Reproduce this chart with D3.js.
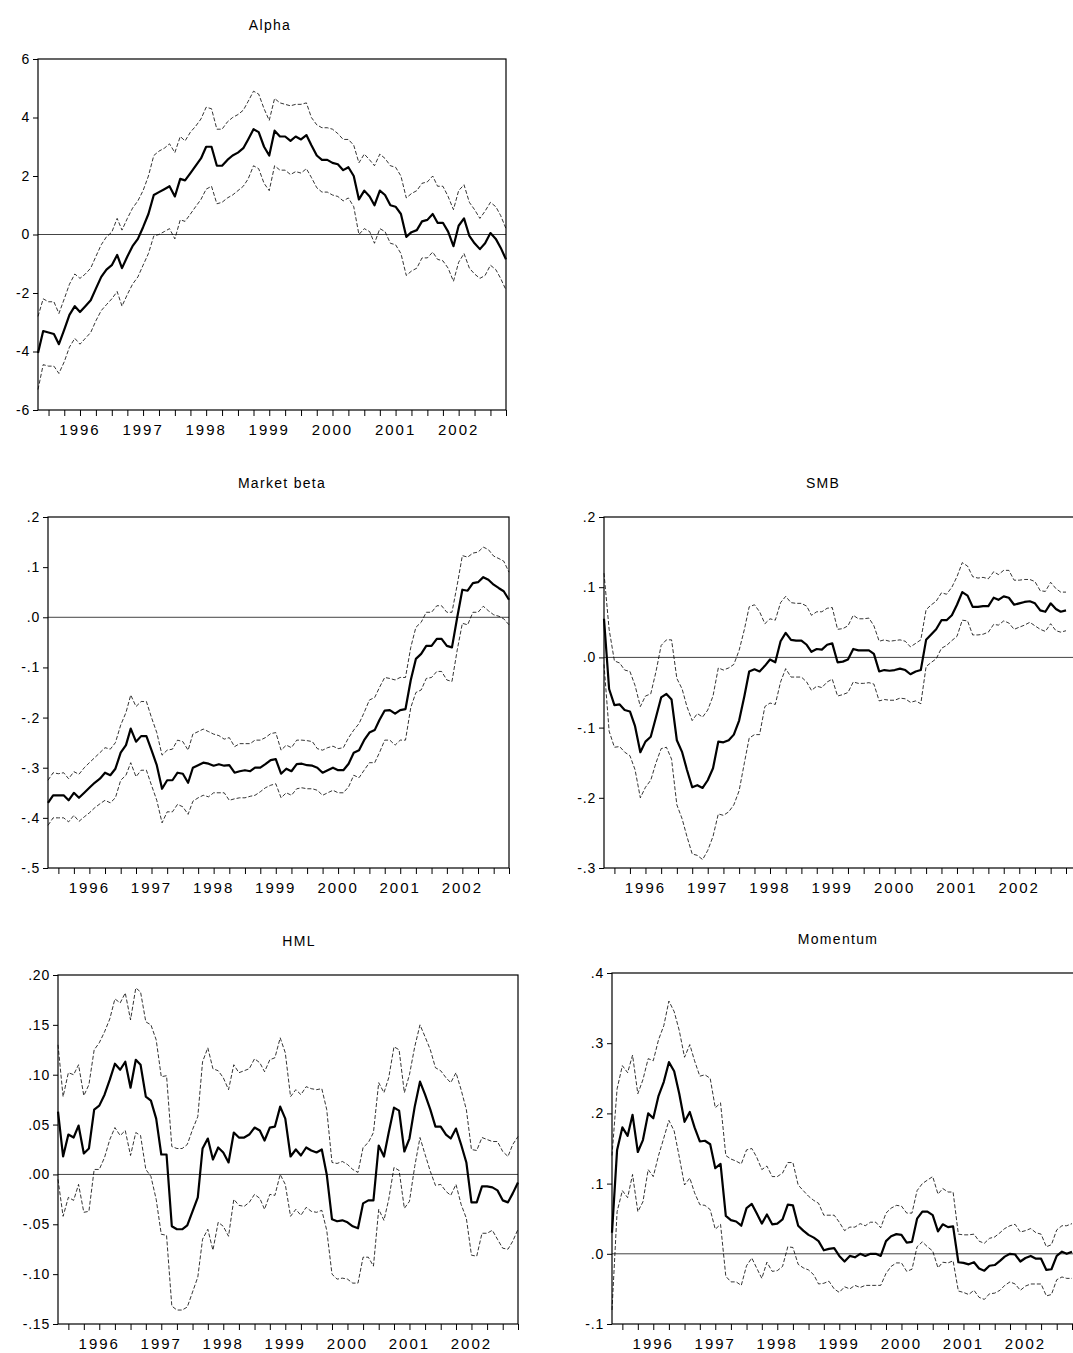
<!DOCTYPE html>
<html><head><meta charset="utf-8">
<script src="https://cdn.jsdelivr.net/npm/d3@7"></script>
<style>body{margin:0;background:#fff}svg{font-family:"Liberation Sans",Arial,sans-serif}</style>
</head><body>
<svg id="chart" width="1073" height="1353"></svg>
<script>
// monthly observations, Nov 1995 .. Apr 2003
const startDate = new Date(1995, 10, 1);
const yearLabels = [1996, 1997, 1998, 1999, 2000, 2001, 2002];

const alphaMid = [-4.05,-3.3,-3.35,-3.4,-3.75,-3.25,-2.75,-2.45,-2.65,-2.45,-2.25,-1.85,-1.45,-1.2,-1.05,-0.7,-1.15,-0.75,-0.4,-0.15,0.25,0.7,1.35,1.45,1.55,1.65,1.3,1.9,1.85,2.1,2.35,2.6,3.0,3.0,2.35,2.35,2.55,2.7,2.8,2.95,3.25,3.6,3.5,3.0,2.7,3.55,3.35,3.35,3.2,3.35,3.25,3.4,3.05,2.7,2.55,2.55,2.45,2.4,2.2,2.3,2.0,1.2,1.5,1.3,1.0,1.5,1.35,1.0,0.95,0.7,-0.08,0.08,0.15,0.45,0.5,0.7,0.4,0.4,0.1,-0.4,0.3,0.55,-0.05,-0.3,-0.5,-0.3,0.05,-0.15,-0.45,-0.85];
const alphaHi = [-2.8,-2.2,-2.3,-2.3,-2.7,-2.2,-1.7,-1.35,-1.5,-1.35,-1.15,-0.75,-0.35,-0.08,0.08,0.55,0.15,0.55,0.9,1.15,1.5,2.0,2.7,2.85,2.95,3.1,2.8,3.35,3.2,3.5,3.7,3.95,4.35,4.3,3.6,3.6,3.85,4.0,4.1,4.25,4.55,4.9,4.8,4.3,3.9,4.65,4.5,4.45,4.4,4.45,4.45,4.5,4.0,3.75,3.65,3.65,3.6,3.45,3.25,3.25,3.05,2.45,2.75,2.55,2.35,2.75,2.6,2.35,2.3,2.0,1.25,1.4,1.5,1.75,1.8,2.0,1.65,1.65,1.3,0.85,1.5,1.7,1.1,0.85,0.55,0.8,1.1,0.95,0.65,0.2];
const alphaLo = [-5.3,-4.45,-4.5,-4.5,-4.75,-4.35,-3.85,-3.55,-3.75,-3.55,-3.35,-2.95,-2.6,-2.4,-2.2,-1.95,-2.45,-2.05,-1.7,-1.45,-1.05,-0.65,-0.05,0.0,0.1,0.2,-0.15,0.5,0.45,0.7,0.95,1.2,1.55,1.65,1.05,1.1,1.25,1.35,1.5,1.65,1.9,2.35,2.25,1.75,1.5,2.35,2.2,2.2,2.05,2.15,2.1,2.25,1.95,1.6,1.45,1.45,1.35,1.3,1.15,1.25,0.95,0.0,0.2,0.1,-0.3,0.2,0.1,-0.3,-0.35,-0.65,-1.4,-1.25,-1.15,-0.8,-0.8,-0.6,-0.85,-0.9,-1.15,-1.6,-0.95,-0.65,-1.15,-1.35,-1.5,-1.4,-1.05,-1.2,-1.5,-1.9];

const betaMid = [-.37,-.355,-.355,-.355,-.365,-.35,-.36,-.35,-.34,-.33,-.322,-.31,-.315,-.302,-.27,-.255,-.222,-.248,-.237,-.237,-.265,-.295,-.342,-.325,-.325,-.31,-.312,-.33,-.3,-.295,-.29,-.292,-.296,-.293,-.296,-.295,-.31,-.307,-.305,-.307,-.3,-.3,-.293,-.285,-.283,-.312,-.302,-.307,-.293,-.292,-.295,-.296,-.3,-.31,-.305,-.3,-.305,-.305,-.292,-.27,-.265,-.245,-.23,-.225,-.205,-.186,-.185,-.192,-.185,-.183,-.125,-.083,-.073,-.057,-.057,-.043,-.043,-.057,-.06,0.0,.055,.053,.068,.07,.08,.075,.065,.058,.052,.035];
const betaHi = [-.325,-.31,-.312,-.31,-.322,-.308,-.313,-.3,-.29,-.28,-.27,-.26,-.263,-.25,-.215,-.19,-.155,-.178,-.168,-.168,-.2,-.23,-.275,-.265,-.263,-.245,-.248,-.265,-.233,-.228,-.223,-.228,-.233,-.236,-.243,-.24,-.258,-.252,-.252,-.252,-.245,-.245,-.24,-.232,-.23,-.265,-.255,-.26,-.245,-.245,-.246,-.248,-.262,-.265,-.26,-.257,-.262,-.26,-.24,-.225,-.212,-.19,-.165,-.16,-.14,-.12,-.122,-.125,-.12,-.12,-.06,-.02,-.01,.01,.01,.023,.023,.01,.01,.065,.123,.12,.128,.13,.14,.135,.122,.117,.112,.09];
const betaLo = [-.415,-.4,-.4,-.4,-.408,-.395,-.407,-.398,-.39,-.38,-.372,-.365,-.37,-.36,-.325,-.315,-.29,-.318,-.305,-.305,-.335,-.365,-.41,-.388,-.388,-.373,-.378,-.393,-.367,-.36,-.355,-.358,-.35,-.35,-.35,-.365,-.362,-.36,-.36,-.357,-.355,-.348,-.34,-.335,-.332,-.36,-.35,-.355,-.342,-.34,-.342,-.342,-.345,-.355,-.35,-.345,-.35,-.35,-.338,-.315,-.32,-.305,-.29,-.29,-.27,-.245,-.245,-.255,-.245,-.245,-.18,-.15,-.145,-.122,-.12,-.108,-.108,-.125,-.128,-.065,-.012,-.015,.01,.01,.022,.013,.005,.002,-.003,-.015];

const smbMid = [.055,-.045,-.068,-.067,-.075,-.077,-.098,-.135,-.12,-.113,-.085,-.057,-.052,-.06,-.118,-.135,-.16,-.185,-.182,-.186,-.175,-.158,-.12,-.121,-.118,-.11,-.09,-.055,-.02,-.017,-.02,-.012,-.003,-.007,.023,.035,.025,.024,.024,.018,.008,.012,.011,.018,.02,-.007,-.006,-.003,.012,.01,.01,.01,.005,-.02,-.018,-.019,-.018,-.016,-.018,-.024,-.02,-.018,.025,.033,.04,.053,.053,.06,.075,.093,.088,.072,.072,.073,.073,.085,.082,.087,.085,.075,.077,.079,.08,.077,.067,.065,.077,.069,.065,.067];
const smbHi = [.12,.04,-.005,-.008,-.018,-.02,-.04,-.07,-.055,-.052,-.02,.017,.025,.025,-.03,-.045,-.07,-.09,-.08,-.085,-.075,-.055,-.015,-.018,-.015,-.01,.01,.04,.072,.075,.065,.048,.055,.053,.078,.087,.078,.077,.077,.073,.06,.065,.065,.07,.071,.04,.041,.045,.06,.055,.055,.056,.045,.023,.025,.023,.024,.025,.023,.015,.02,.025,.068,.075,.08,.092,.09,.1,.115,.135,.13,.115,.113,.114,.112,.122,.118,.124,.124,.11,.11,.111,.111,.108,.095,.094,.107,.098,.093,.093];
const smbLo = [-.01,-.105,-.128,-.127,-.135,-.14,-.16,-.2,-.185,-.175,-.15,-.13,-.128,-.145,-.21,-.23,-.255,-.28,-.282,-.288,-.275,-.255,-.223,-.225,-.22,-.21,-.19,-.15,-.115,-.11,-.11,-.07,-.065,-.067,-.035,-.016,-.028,-.028,-.028,-.035,-.047,-.041,-.043,-.035,-.031,-.055,-.053,-.05,-.035,-.037,-.037,-.036,-.038,-.062,-.06,-.061,-.061,-.058,-.059,-.064,-.062,-.066,-.013,-.007,-.002,.013,.017,.024,.03,.053,.052,.032,.032,.033,.036,.047,.046,.052,.049,.04,.043,.046,.05,.045,.04,.037,.048,.038,.036,.038];

const hmlMid = [.063,.018,.04,.037,.049,.021,.026,.065,.069,.08,.095,.111,.105,.113,.087,.115,.11,.078,.074,.056,.02,.02,-.052,-.055,-.055,-.051,-.037,-.023,.026,.036,.015,.027,.022,.012,.042,.037,.037,.04,.047,.044,.034,.047,.048,.068,.056,.018,.025,.019,.027,.024,.022,.025,0,-.045,-.047,-.046,-.048,-.052,-.054,-.029,-.026,-.026,.029,.018,.042,.067,.064,.023,.036,.068,.093,.08,.065,.048,.048,.04,.036,.046,.03,.012,-.028,-.028,-.012,-.012,-.013,-.016,-.026,-.028,-.019,-.008];
const hmlHi = [.13,.078,.102,.1,.11,.079,.09,.125,.132,.143,.156,.176,.172,.182,.155,.187,.183,.153,.15,.135,.098,.099,.028,.026,.026,.03,.045,.058,.113,.127,.106,.104,.097,.085,.11,.102,.104,.106,.116,.112,.103,.115,.117,.137,.122,.078,.085,.08,.088,.086,.085,.086,.065,.012,.011,.013,.01,.005,.002,.027,.032,.042,.092,.082,.097,.128,.125,.082,.1,.128,.15,.138,.125,.107,.104,.097,.092,.102,.085,.065,.025,.024,.037,.035,.033,.033,.023,.018,.03,.038];
const hmlLo = [-.005,-.042,-.023,-.026,-.01,-.038,-.037,.005,.005,.017,.035,.047,.039,.044,.019,.042,.039,.005,-.002,-.025,-.06,-.061,-.132,-.136,-.136,-.133,-.118,-.103,-.065,-.055,-.076,-.048,-.052,-.062,-.025,-.031,-.032,-.028,-.02,-.024,-.035,-.02,-.021,0,-.01,-.042,-.035,-.041,-.033,-.037,-.038,-.036,-.056,-.1,-.105,-.104,-.105,-.109,-.109,-.083,-.083,-.092,-.035,-.046,-.025,.007,.004,-.034,-.027,.008,.037,.02,.003,-.011,-.01,-.017,-.021,-.01,-.03,-.044,-.081,-.082,-.059,-.059,-.056,-.065,-.074,-.075,-.067,-.055];

const momMid = [.03,.148,.18,.168,.198,.145,.162,.2,.193,.225,.245,.273,.26,.228,.188,.202,.18,.16,.161,.156,.122,.128,.054,.048,.046,.04,.065,.071,.058,.043,.056,.042,.043,.049,.07,.069,.04,.033,.027,.023,.018,.005,.007,.008,-.003,-.011,-.003,-.005,0,-.003,0,0,-.003,.018,.025,.028,.027,.016,.017,.05,.06,.06,.055,.032,.042,.038,.039,-.012,-.013,-.015,-.012,-.021,-.024,-.017,-.016,-.01,-.004,0,-.001,-.011,-.006,-.003,-.007,-.007,-.023,-.022,-.003,.003,0,.003];
const momHi = [.14,.235,.268,.258,.283,.228,.248,.278,.275,.305,.325,.36,.345,.318,.28,.298,.275,.253,.255,.25,.208,.215,.14,.135,.132,.128,.148,.15,.138,.12,.125,.11,.11,.115,.13,.13,.098,.09,.082,.076,.072,.055,.055,.055,.045,.033,.038,.038,.043,.04,.045,.045,.037,.058,.065,.069,.068,.058,.058,.09,.1,.105,.11,.085,.093,.088,.088,.028,.027,.027,.028,.018,.015,.022,.024,.03,.036,.04,.042,.031,.033,.036,.03,.028,.01,.013,.034,.04,.04,.043];
const momLo = [-.08,.06,.09,.08,.113,.06,.074,.12,.11,.14,.165,.19,.175,.138,.098,.108,.087,.07,.069,.063,.035,.042,-.032,-.04,-.04,-.045,-.017,-.006,-.02,-.035,-.012,-.025,-.024,-.018,.01,.009,-.015,-.02,-.023,-.03,-.043,-.042,-.039,-.05,-.055,-.047,-.05,-.045,-.048,-.045,-.045,-.045,-.045,-.028,-.018,-.013,-.013,-.025,-.022,.01,.017,.01,.004,-.02,-.012,-.013,-.01,-.053,-.055,-.058,-.052,-.062,-.065,-.057,-.056,-.052,-.045,-.04,-.043,-.052,-.046,-.043,-.043,-.043,-.06,-.058,-.037,-.033,-.035,-.035];

const alphaTicks = [-6, -4, -2, 0, 2, 4, 6];
const betaTicks = [-.5, -.4, -.3, -.2, -.1, 0, .1, .2];
const smbTicks = [-.3, -.2, -.1, 0, .1, .2];
const hmlTicks = [-.15, -.10, -.05, 0, .05, .10, .15, .20];
const momTicks = [-.1, 0, .1, .2, .3, .4];

const dates = alphaMid.map((d, i) => d3.timeMonth.offset(startDate, i));

const panels = [
  {title: "Alpha", mid: alphaMid, hi: alphaHi, lo: alphaLo, ticks: alphaTicks, dec: 0,
   x0: 38, x1: 506, frameR: 506, y0: 59, y1: 410, tx: 270},
  {title: "Market beta", mid: betaMid, hi: betaHi, lo: betaLo, ticks: betaTicks, dec: 1,
   x0: 48, x1: 509, frameR: 509, y0: 517, y1: 868, tx: 282},
  {title: "SMB", mid: smbMid, hi: smbHi, lo: smbLo, ticks: smbTicks, dec: 1,
   x0: 604, x1: 1066, frameR: 1085, y0: 517, y1: 868, tx: 823},
  {title: "HML", mid: hmlMid, hi: hmlHi, lo: hmlLo, ticks: hmlTicks, dec: 2,
   x0: 58, x1: 518, frameR: 518, y0: 975, y1: 1324, tx: 299},
  {title: "Momentum", mid: momMid, hi: momHi, lo: momLo, ticks: momTicks, dec: 1,
   x0: 612, x1: 1072, frameR: 1085, y0: 973, y1: 1324, tx: 838}
];

const svg = d3.select("#chart");

function fmt(v, dec) {
  if (dec === 0) return String(v);
  let s = Math.abs(v).toFixed(dec).replace(/^0/, "");
  return (v < 0 ? "-" : "") + s;
}

panels.forEach(p => {
  const x = d3.scaleTime().domain([dates[0], dates[dates.length - 1]]).range([p.x0, p.x1]);
  const y = d3.scaleLinear().domain([p.ticks[0], p.ticks[p.ticks.length - 1]]).range([p.y1, p.y0]);
  const g = svg.append("g");

  g.append("text").attr("x", p.tx).attr("y", p.y0 - 29)
    .attr("text-anchor", "middle").attr("font-size", 14).attr("letter-spacing", 1.3).text(p.title);

  // zero line
  g.append("line").attr("x1", p.x0).attr("x2", p.frameR).attr("y1", y(0)).attr("y2", y(0))
    .attr("stroke", "#444").attr("stroke-width", 1);

  const line = arr => d3.line().x((d, i) => x(dates[i])).y(d => y(d))(arr);
  [p.hi, p.lo].forEach(a => g.append("path").attr("d", line(a)).attr("fill", "none")
    .attr("stroke", "#000").attr("stroke-width", 0.8).attr("stroke-dasharray", "4,2"));
  g.append("path").attr("d", line(p.mid)).attr("fill", "none")
    .attr("stroke", "#000").attr("stroke-width", 2.2).attr("stroke-linejoin", "round");

  g.append("rect").attr("x", p.x0).attr("y", p.y0).attr("width", p.frameR - p.x0).attr("height", p.y1 - p.y0)
    .attr("fill", "none").attr("stroke", "#000").attr("stroke-width", 1.2);

  // y axis
  const ya = g.append("g").attr("transform", `translate(${p.x0},0)`)
    .call(d3.axisLeft(y).tickValues(p.ticks).tickSize(5).tickFormat(v => fmt(v, p.dec)));
  ya.select(".domain").remove();
  ya.selectAll("text").attr("font-size", 14).attr("letter-spacing", 0.8)
    .attr("font-family", "Liberation Sans, Arial").attr("fill", "#000");
  ya.selectAll("line").attr("stroke", "#000");

  // x axis: quarterly ticks, year labels centred in the year
  const xa = g.append("g").attr("transform", `translate(0,${p.y1})`)
    .call(d3.axisBottom(x).ticks(d3.timeMonth.every(3)).tickSize(6).tickFormat(""));
  xa.select(".domain").remove();
  xa.selectAll("line").attr("stroke", "#000");
  yearLabels.forEach(yr => {
    g.append("text").attr("x", x(new Date(yr, 6, 1))).attr("y", p.y1 + 25)
      .attr("text-anchor", "middle").attr("font-size", 15).attr("letter-spacing", 2).text(yr);
  });
});
</script>
</body></html>
